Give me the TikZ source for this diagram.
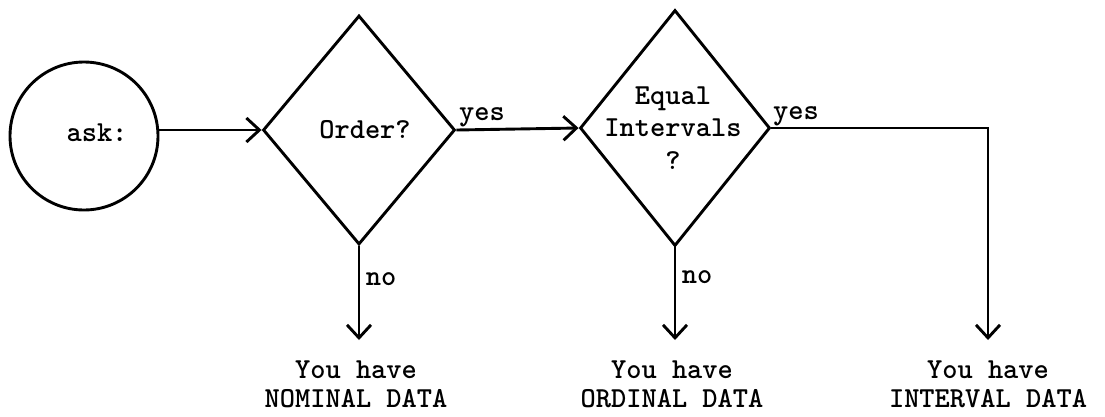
\documentclass[tikz,border=0pt]{standalone}
\usepackage{fontspec}
\usetikzlibrary{shapes.geometric,arrows.meta}
\begin{document}
\begin{tikzpicture}[x=1pt,y=-1pt,line width=2.9pt,
  txt/.style={font=\ttfamily\bfseries\fontsize{29}{29}\selectfont,inner sep=0pt},
  arr/.style={-{Straight Barb[length=13pt,width=24pt,line width=2.9pt]}},
  dia/.style={draw,shape=diamond,inner sep=0pt}]
\useasboundingbox (0,0) rectangle (1105,416);
\node[draw,circle,minimum size=148pt,inner sep=0pt] (c) at (84,136) {};
\node[txt] (ask) at (97,133) {ask:};
\node[dia,minimum width=192pt,minimum height=229pt] (d1) at (359,130) {};
\node[txt,anchor=base] (q1) at (365,138) {Order?};
\node[dia,minimum width=190pt,minimum height=236pt] (d2) at (675,128) {};
\node[txt,align=center,font=\ttfamily\bfseries\fontsize{29}{32.5}\selectfont] (q2) at (673,128) {Equal\\Intervals\\?};
\node[txt,anchor=base] (y1) at (482,120) {yes};
\node[txt,anchor=base] (y2) at (796,119) {yes};
\node[txt,anchor=base] (no1) at (381,285) {no};
\node[txt,anchor=base] (no2) at (697,283) {no};
\node[txt,align=center,anchor=north,inner ysep=19pt] (r1) at (356,340) {You have\\NOMINAL DATA};
\node[txt,align=center,anchor=north,inner ysep=19pt] (r2) at (672,340) {You have\\ORDINAL DATA};
\node[txt,align=center,anchor=north,inner ysep=19pt] (r3) at (988,340) {You have\\INTERVAL DATA};
\draw[arr] (c.east |- d1.west) -- (d1.west);
\draw[arr] (d1.east) -- (d2.west);
\draw[arr] (d1.south) -- (d1.south |- r1.north);
\draw[arr] (d2.south) -- (d2.south |- r2.north);
\draw[arr] (d2.east) -- (d2.east -| r3.north) -- (r3.north);
\end{tikzpicture}
\end{document}
